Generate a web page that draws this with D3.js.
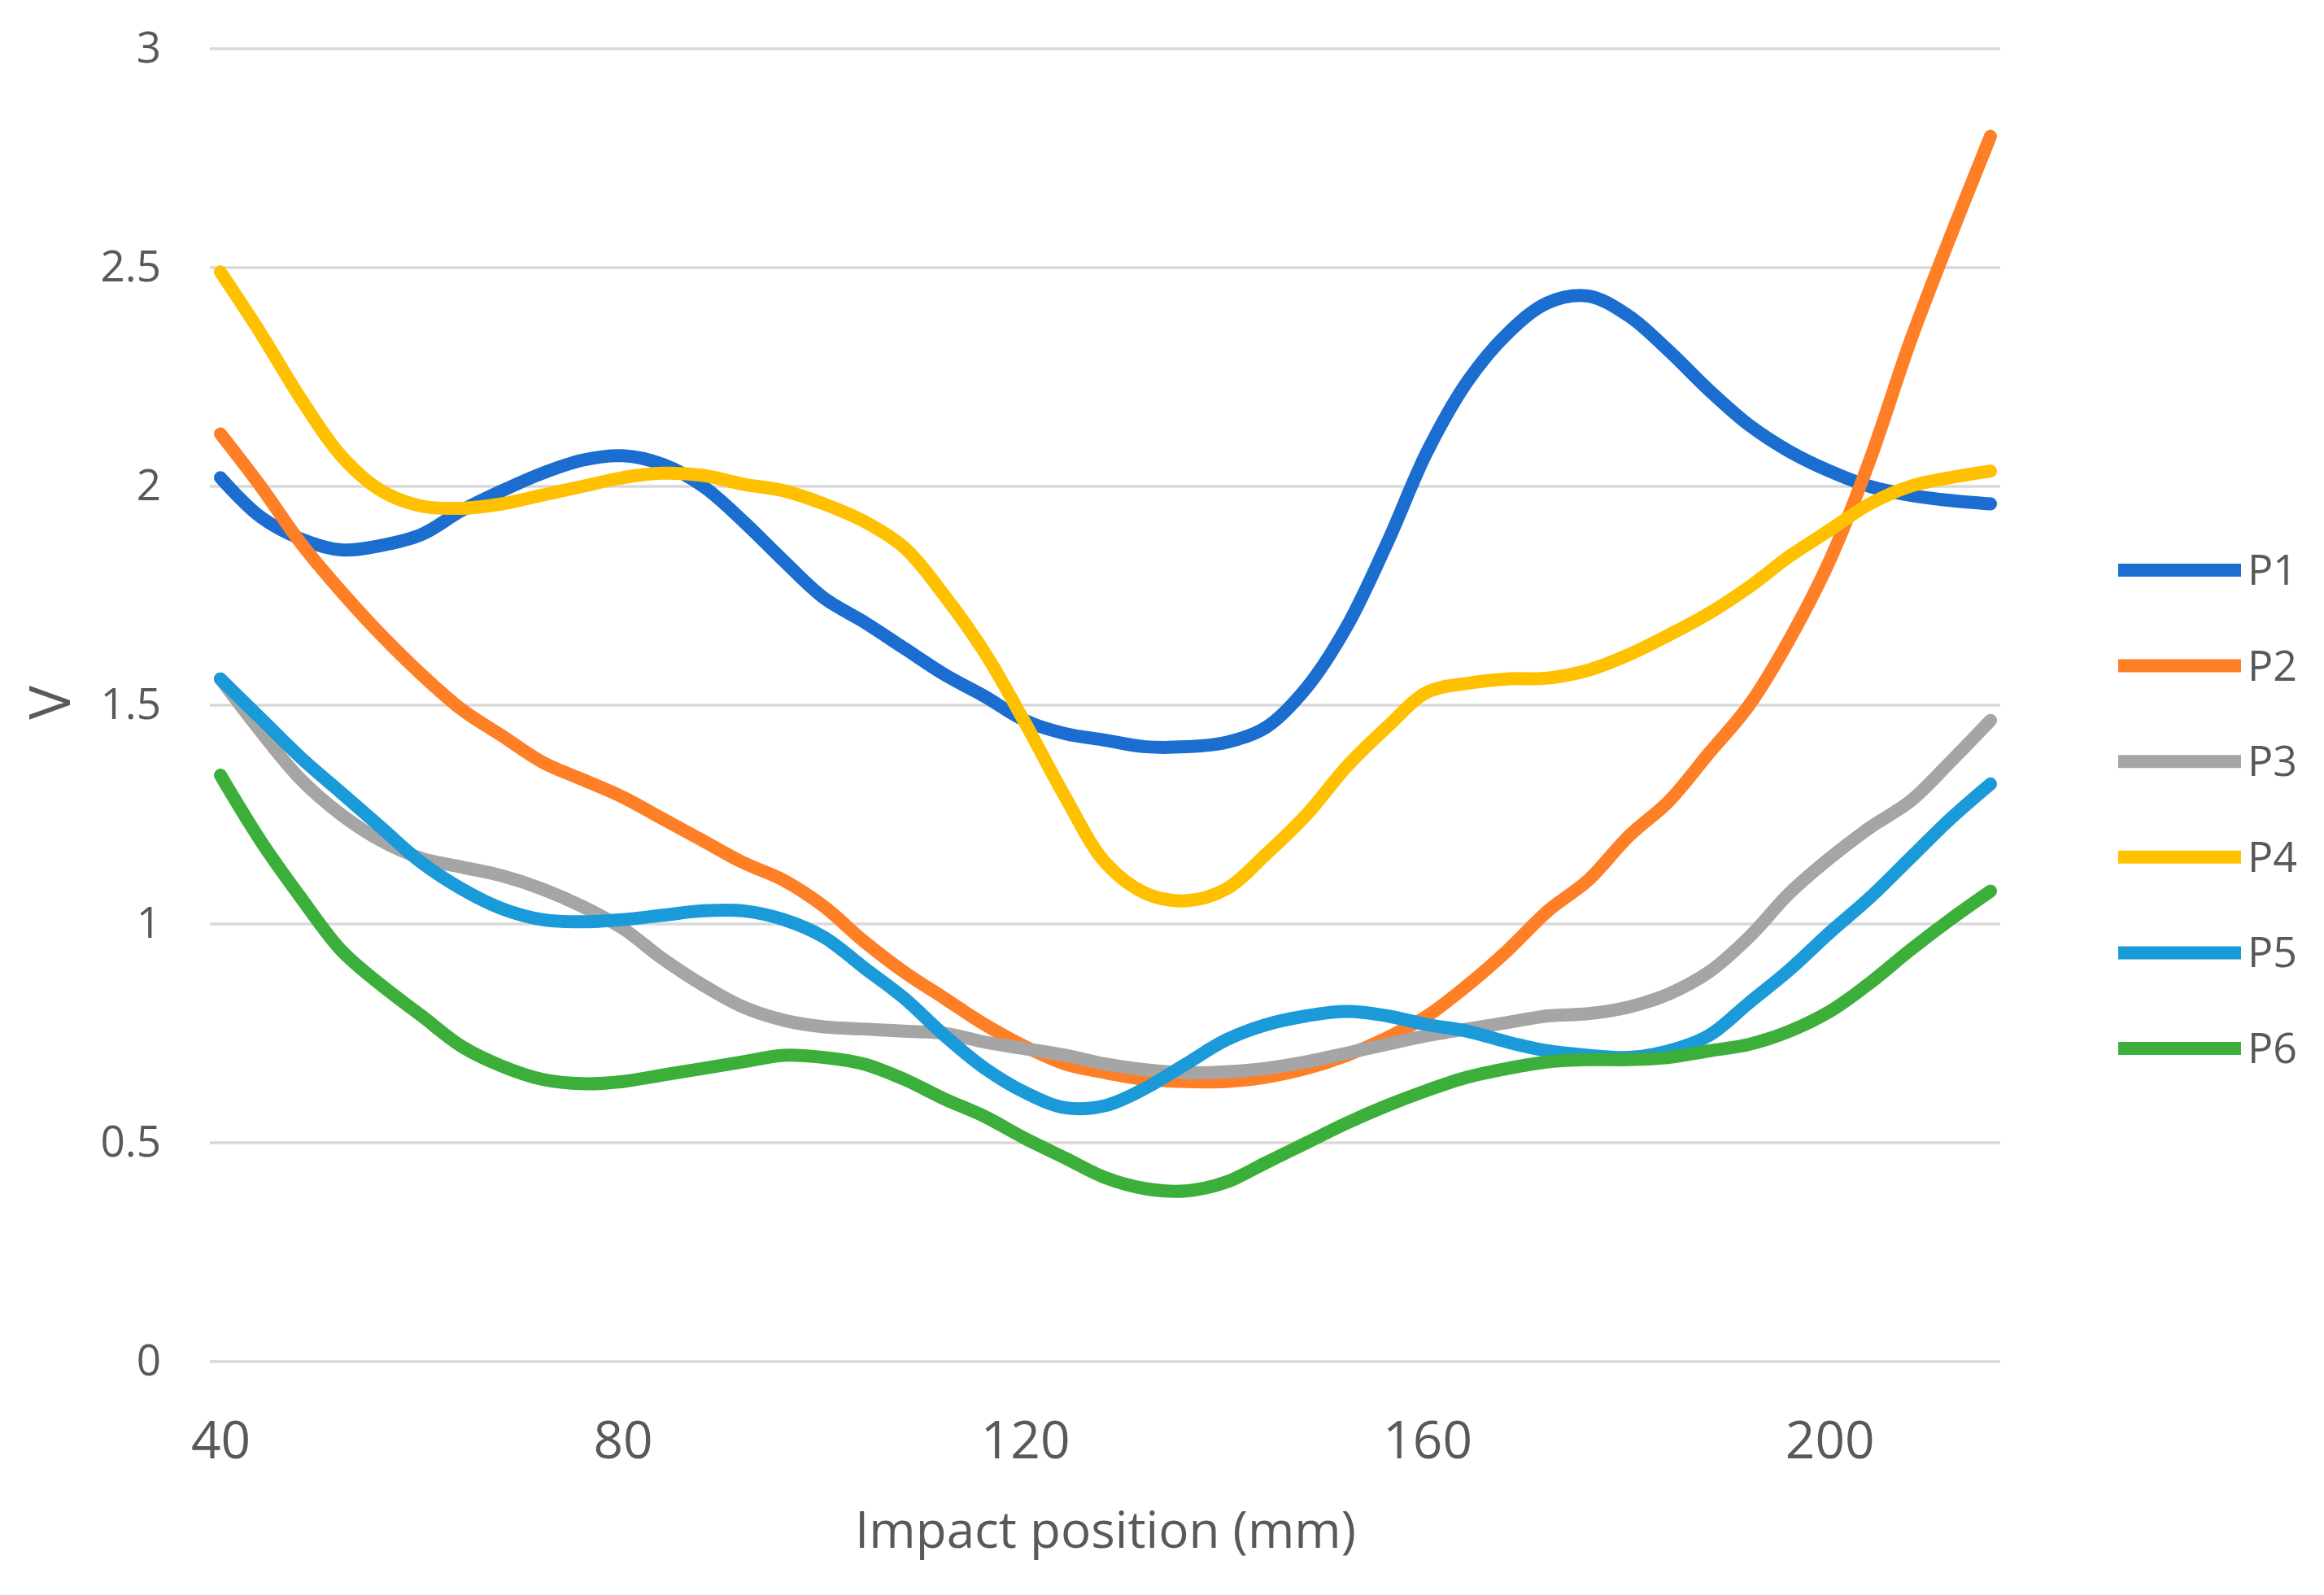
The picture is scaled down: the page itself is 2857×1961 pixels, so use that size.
<!DOCTYPE html>
<html>
<head>
<meta charset="utf-8">
<script src="https://cdn.jsdelivr.net/npm/d3@7"></script>
<style>
  html, body { margin: 0; padding: 0; background: #ffffff; }
  svg text { font-family: "Open Sans", "Noto Sans", sans-serif; fill: #595959; }
</style>
</head>
<body>
<div id="chartDiv"></div>
<script>
// impact positions in mm
var positions = [40, 44, 48, 52, 56, 60, 64, 68, 72, 76, 80, 84, 88, 92, 96, 100, 104, 108, 112, 116,
                 120, 124, 128, 132, 136, 140, 144, 148, 152, 156, 160, 164, 168, 172, 176, 180, 184,
                 188, 192, 196, 200, 204, 208, 212, 216];

var p1 = [2.02, 1.93, 1.88, 1.855, 1.865, 1.89, 1.945, 1.99, 2.03, 2.06, 2.07, 2.05, 2.0, 1.92, 1.83,
          1.745, 1.69, 1.63, 1.57, 1.52, 1.465, 1.435, 1.42, 1.405, 1.405, 1.415, 1.45, 1.54, 1.68,
          1.87, 2.08, 2.24, 2.35, 2.42, 2.435, 2.39, 2.31, 2.22, 2.14, 2.08, 2.035, 2.0, 1.98, 1.968, 1.96];
var p2 = [2.12, 2.0, 1.87, 1.76, 1.66, 1.57, 1.49, 1.43, 1.37, 1.33, 1.29, 1.24, 1.19, 1.14, 1.1,
          1.04, 0.96, 0.89, 0.83, 0.77, 0.72, 0.68, 0.66, 0.645, 0.64, 0.64, 0.65, 0.67, 0.7, 0.74,
          0.79, 0.86, 0.94, 1.03, 1.1, 1.2, 1.28, 1.39, 1.5, 1.65, 1.83, 2.06, 2.33, 2.57, 2.8];
var p3 = [1.56, 1.44, 1.33, 1.25, 1.19, 1.15, 1.13, 1.11, 1.08, 1.04, 0.99, 0.92, 0.86, 0.81, 0.78,
          0.765, 0.76, 0.755, 0.75, 0.73, 0.715, 0.7, 0.68, 0.667, 0.66, 0.662, 0.67, 0.685, 0.705, 0.725,
          0.745, 0.76, 0.775, 0.79, 0.795, 0.81, 0.84, 0.89, 0.97, 1.07, 1.15, 1.22, 1.28, 1.37, 1.465];
var p4 = [2.49, 2.35, 2.2, 2.07, 1.99, 1.955, 1.95, 1.96, 1.98, 2.0, 2.02, 2.03, 2.025, 2.005, 1.99,
          1.96, 1.92, 1.86, 1.75, 1.62, 1.46, 1.29, 1.14, 1.07, 1.053, 1.08, 1.16, 1.25, 1.36, 1.45,
          1.53, 1.55, 1.56, 1.562, 1.58, 1.615, 1.66, 1.71, 1.77, 1.84, 1.9, 1.96, 2.0, 2.02, 2.035];
var p5 = [1.56, 1.47, 1.38, 1.3, 1.22, 1.14, 1.08, 1.035, 1.01, 1.005, 1.01, 1.02, 1.03, 1.03, 1.01,
          0.97, 0.9, 0.83, 0.745, 0.67, 0.615, 0.58, 0.585, 0.625, 0.68, 0.735, 0.77, 0.79, 0.8, 0.79,
          0.77, 0.755, 0.73, 0.71, 0.7, 0.695, 0.71, 0.745, 0.82, 0.895, 0.98, 1.06, 1.15, 1.24, 1.32];
var p6 = [1.34, 1.19, 1.06, 0.94, 0.86, 0.79, 0.72, 0.675, 0.645, 0.635, 0.64, 0.655, 0.67, 0.685, 0.7,
          0.695, 0.68, 0.645, 0.6, 0.56, 0.51, 0.465, 0.42, 0.395, 0.39, 0.41, 0.455, 0.5, 0.545, 0.585,
          0.62, 0.65, 0.67, 0.685, 0.69, 0.69, 0.695, 0.71, 0.725, 0.755, 0.8, 0.865, 0.94, 1.01, 1.075];

var seriesNames = ["P1", "P2", "P3", "P4", "P5", "P6"];
var seriesValues = [p1, p2, p3, p4, p5, p6];
var seriesColors = ["#1c6dd0", "#ff7f27", "#a5a5a5", "#ffc000", "#1a9ad8", "#3cae3a"];

var yTicks = [0, 0.5, 1, 1.5, 2, 2.5, 3];
var xTicks = [40, 80, 120, 160, 200];

var width = 2857;
var height = 1961;

// scales
var xScale = d3.scaleLinear().domain([40, 216]).range([271, 2447]);
var yScale = d3.scaleLinear().domain([0, 3]).range([1674, 60]);

var svg = d3.select("#chartDiv")
            .append("svg")
            .attr("width", width)
            .attr("height", height);

// horizontal gridlines
svg.append("g")
   .selectAll("line")
   .data(yTicks)
   .enter()
   .append("line")
   .attr("x1", 258)
   .attr("x2", 2459)
   .attr("y1", function(d) { return yScale(d); })
   .attr("y2", function(d) { return yScale(d); })
   .attr("stroke", "#d9d9d9")
   .attr("stroke-width", 3.5);

// y axis labels
var yAxis = svg.append("g")
   .attr("transform", "translate(258,0)")
   .call(d3.axisLeft(yScale).tickValues(yTicks).tickSize(0).tickPadding(60)
          .tickFormat(function(d) { return String(d); }));
yAxis.select(".domain").remove();
yAxis.selectAll("text").style("font-size", "53px").attr("fill", "#595959");

// x axis labels
var xAxis = svg.append("g")
   .attr("transform", "translate(0,1674)")
   .call(d3.axisBottom(xScale).tickValues(xTicks).tickSize(0).tickPadding(74));
xAxis.select(".domain").remove();
xAxis.selectAll("text").style("font-size", "64px").attr("fill", "#595959");

// lines
var line = d3.line()
             .x(function(d) { return xScale(d[0]); })
             .y(function(d) { return yScale(d[1]); })
             .curve(d3.curveCatmullRom.alpha(0.5));

seriesValues.forEach(function(vals, i) {
    svg.append("path")
       .datum(positions.map(function(p, j) { return [p, vals[j]]; }))
       .attr("d", line)
       .attr("fill", "none")
       .attr("stroke", seriesColors[i])
       .attr("stroke-width", 16)
       .attr("stroke-linecap", "round")
       .attr("stroke-linejoin", "round");
});

// axis titles
svg.append("text")
   .attr("x", 1359)
   .attr("y", 1903)
   .attr("text-anchor", "middle")
   .style("font-size", "62px")
   .text("Impact position (mm)");

svg.append("text")
   .attr("transform", "translate(86,864) rotate(-90)")
   .attr("text-anchor", "middle")
   .style("font-size", "70px")
   .text("V");

// legend
var legend = svg.append("g")
   .selectAll("g")
   .data(seriesNames)
   .enter()
   .append("g")
   .attr("transform", function(d, i) { return "translate(0," + (701 + i * 117.6) + ")"; });

legend.append("line")
      .attr("x1", 2604)
      .attr("x2", 2755)
      .attr("y1", 0)
      .attr("y2", 0)
      .attr("stroke", function(d, i) { return seriesColors[i]; })
      .attr("stroke-width", 16);

legend.append("text")
      .attr("x", 2763)
      .attr("y", 18)
      .style("font-size", "52px")
      .text(function(d) { return d; });
</script>
</body>
</html>
